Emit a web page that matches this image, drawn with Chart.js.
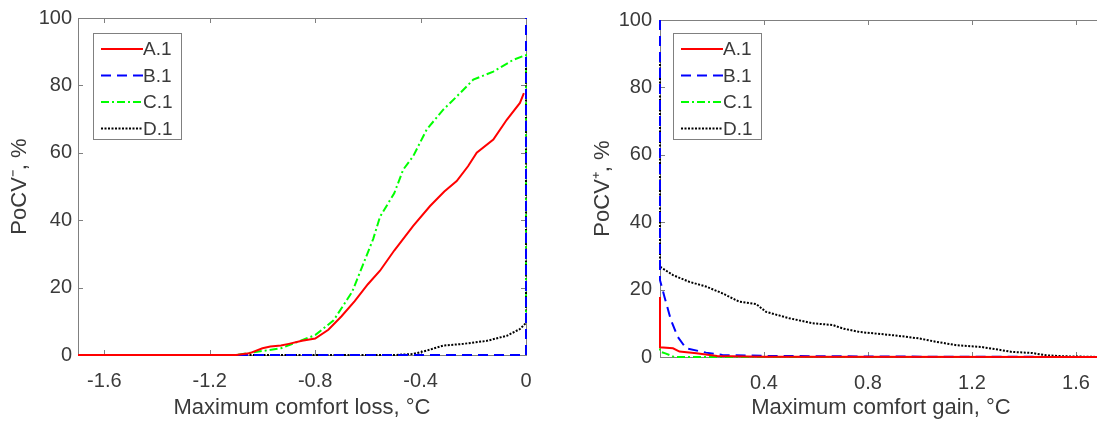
<!DOCTYPE html>
<html>
<head>
<meta charset="utf-8">
<script src="https://cdn.jsdelivr.net/npm/chart.js@4.4.0/dist/chart.umd.min.js"></script>
<style>
body { margin: 0; width: 1097px; height: 421px; overflow: hidden; background: #fff; position: relative; }
#wrapL { position: absolute; left: 0; top: 0; width: 550px; height: 421px; }
#wrapR { position: absolute; left: 560px; top: 0; width: 560px; height: 421px; }
</style>
</head>
<body>
<div id="wrapL"><canvas id="lossChart"></canvas></div>
<div id="wrapR"><canvas id="gainChart"></canvas></div>
<script>
// series names
const seriesNames = ['A.1', 'B.1', 'C.1', 'D.1'];

// left panel: maximum comfort loss
const lossX_A = [-1.7, -1.1, -1.05, -1.0, -0.97, -0.93, -0.9, -0.85, -0.8, -0.75, -0.7, -0.65, -0.6, -0.554, -0.5, -0.428, -0.364, -0.31, -0.263, -0.22, -0.187, -0.124, -0.073, -0.023, -0.008];
const lossY_A = [0, 0, 0.5, 2.0, 2.5, 2.8, 3.3, 4.2, 4.9, 7.5, 11.5, 16, 21, 25, 31, 38.3, 44.2, 48.5, 51.6, 56, 60, 63.9, 69.8, 74.8, 77.7];
const lossX_B = [-1.7, 0, 0];
const lossY_B = [0, 0, 100];
const lossX_C = [-1.7, -1.1, -1.06, -0.93, -0.8, -0.73, -0.66, -0.62, -0.58, -0.554, -0.5, -0.466, -0.428, -0.377, -0.314, -0.263, -0.2, -0.124, -0.048, 0, 0];
const lossY_C = [0, 0, 0.5, 2, 5.9, 10.3, 18.7, 26.5, 34.4, 41, 48, 55, 59, 66.9, 72.8, 76.7, 81.7, 84.1, 87.6, 89, 10];
const lossX_D = [-1.7, -0.5, -0.428, -0.377, -0.314, -0.238, -0.149, -0.073, -0.023, -0.004, 0, 0];
const lossY_D = [0, 0, 0.3, 1.3, 2.8, 3.3, 4.2, 5.7, 7.7, 9.2, 10, 88];

// right panel: maximum comfort gain
const gainX_A = [0, 0, 0.05, 0.075, 0.14, 0.22, 0.4, 1.7];
const gainY_A = [17.8, 2.9, 2.6, 1.6, 1.1, 0.3, 0.1, 0];
const gainX_B = [0, 0, 0.017, 0.042, 0.068, 0.1, 0.177, 0.24, 0.43, 1.0, 1.7];
const gainY_B = [100, 22.8, 17.9, 11, 6.0, 2.6, 1.3, 0.6, 0.3, 0.1, 0];
const gainX_C = [0, 0, 0.023, 0.055, 1.7];
const gainY_C = [10.5, 1.6, 1.0, 0, 0];
const gainX_D = [0, 0, 0.05, 0.113, 0.177, 0.24, 0.305, 0.37, 0.408, 0.497, 0.587, 0.664, 0.706, 0.77, 0.838, 0.904, 0.997, 1.063, 1.14, 1.234, 1.3, 1.353, 1.43, 1.485, 1.56, 1.7];
const gainY_D = [88, 26.8, 24.3, 22.3, 20.9, 18.9, 16.4, 15.7, 13.4, 11.5, 10.0, 9.5, 8.4, 7.4, 6.9, 6.4, 5.5, 4.5, 3.5, 3.0, 2.2, 1.5, 1.2, 0.5, 0.2, 0];

// tick labels
const lossTicks = [-1.6, -1.2, -0.8, -0.4, 0];
const gainTicks = [0.4, 0.8, 1.2, 1.6];
const yTicks = [0, 20, 40, 60, 80, 100];

const colors = ['#ff0000', '#0000ff', '#00ff00', '#000000'];
const dashes = [[], [10, 6], [8, 3, 2, 3], [2, 1.5]];
const textColor = '#3a3a3a';
const boxColor = '#808080';

function pts(xs, ys) {
  return xs.map((x, i) => ({ x: x, y: ys[i] }));
}

function makeSets(list) {
  return list.map((pair, i) => ({
    label: seriesNames[i],
    data: pts(pair[0], pair[1]),
    showLine: true,
    borderColor: colors[i],
    backgroundColor: colors[i],
    borderWidth: 2,
    borderDash: dashes[i],
    pointRadius: 0,
    tension: 0,
    clip: 6
  }));
}

// MATLAB-like box, inward ticks and boxed legend
const boxPlugin = {
  id: 'boxPlugin',
  beforeDatasetsDraw(chart) {
    const { ctx, chartArea: a, scales } = chart;
    ctx.save();
    ctx.strokeStyle = boxColor;
    ctx.lineWidth = 1;
    ctx.strokeRect(a.left + 0.5, a.top + 0.5, a.right - a.left, a.bottom - a.top);
    ctx.beginPath();
    scales.x.ticks.forEach(t => {
      const px = Math.round(scales.x.getPixelForValue(t.value)) + 0.5;
      ctx.moveTo(px, a.bottom); ctx.lineTo(px, a.bottom - 5);
      ctx.moveTo(px, a.top); ctx.lineTo(px, a.top + 5);
    });
    scales.y.ticks.forEach(t => {
      const py = Math.round(scales.y.getPixelForValue(t.value)) + 0.5;
      ctx.moveTo(a.left, py); ctx.lineTo(a.left + 5, py);
      ctx.moveTo(a.right, py); ctx.lineTo(a.right - 5, py);
    });
    ctx.stroke();
    ctx.restore();
  },
  afterDatasetsDraw(chart) {
    const { ctx, chartArea: a } = chart;
    const off = chart.options.plugins.boxPlugin.offset;
    const bx = a.left + off, by = a.top + off, bw = 88, bh = 106;
    ctx.save();
    ctx.fillStyle = '#fff';
    ctx.fillRect(bx, by, bw, bh);
    ctx.strokeStyle = boxColor;
    ctx.lineWidth = 1;
    ctx.strokeRect(bx + 0.5, by + 0.5, bw, bh);
    ctx.font = '19px "Liberation Sans", Arial, sans-serif';
    ctx.textBaseline = 'middle';
    chart.data.datasets.forEach((ds, i) => {
      const y = by + 16 + i * 26.5;
      ctx.strokeStyle = ds.borderColor;
      ctx.lineWidth = 2;
      ctx.setLineDash(ds.borderDash);
      ctx.beginPath();
      ctx.moveTo(bx + 8, y); ctx.lineTo(bx + 50, y);
      ctx.stroke();
      ctx.setLineDash([]);
      ctx.fillStyle = textColor;
      ctx.fillText(ds.label, bx + 50, y + 1);
    });
    ctx.restore();
  }
};

function makeOptions(cfg) {
  return {
    responsive: true,
    maintainAspectRatio: false,
    animation: false,
    layout: { padding: { top: cfg.top, right: cfg.right, bottom: 0, left: 0 } },
    plugins: { legend: { display: false }, tooltip: { enabled: false }, boxPlugin: { offset: cfg.legendOff } },
    scales: {
      x: {
        type: 'linear', min: cfg.xmin, max: cfg.xmax,
        grid: { display: false, drawTicks: false },
        border: { display: false },
        afterBuildTicks: s => { s.ticks = cfg.xticks.map(v => ({ value: v })); },
        afterFit: s => { s.height = 421 - cfg.top - 337; },
        ticks: { padding: 14, color: textColor, maxRotation: 0, autoSkip: false,
          font: { family: '"Liberation Sans", Arial, sans-serif', size: 20 },
          callback: v => String(v) },
        title: { display: true, text: cfg.xtitle, color: textColor, padding: { top: 0, bottom: 0 },
          font: { family: '"Liberation Sans", Arial, sans-serif', size: 22 } }
      },
      y: {
        type: 'linear', min: 0, max: 100,
        grid: { display: false, drawTicks: false },
        border: { display: false },
        afterBuildTicks: s => { s.ticks = yTicks.map(v => ({ value: v })); },
        afterFit: s => { s.width = cfg.yw; },
        ticks: { padding: cfg.ypad, color: textColor,
          font: { family: '"Liberation Sans", Arial, sans-serif', size: 20 },
          callback: v => String(v) },
        title: { display: true, text: cfg.ytitle, color: textColor, padding: { top: cfg.ytpad, bottom: 0 },
          font: { family: '"Liberation Sans", Arial, sans-serif', size: 22 } }
      }
    }
  };
}

new Chart(document.getElementById('lossChart'), {
  type: 'scatter',
  data: { datasets: makeSets([[lossX_A, lossY_A], [lossX_B, lossY_B], [lossX_C, lossY_C], [lossX_D, lossY_D]]) },
  options: makeOptions({ top: 18, right: 24, xmin: -1.7, xmax: 0, xticks: lossTicks, yw: 78, ypad: 6, ytpad: 7,
    xtitle: 'Maximum comfort loss, °C', ytitle: 'PoCV\u207B, %', legendOff: 15 }),
  plugins: [boxPlugin]
});

new Chart(document.getElementById('gainChart'), {
  type: 'scatter',
  data: { datasets: makeSets([[gainX_A, gainY_A], [gainX_B, gainY_B], [gainX_C, gainY_C], [gainX_D, gainY_D]]) },
  options: makeOptions({ top: 20, right: 18, xmin: 0, xmax: 1.7, xticks: gainTicks, yw: 100, ypad: 8, ytpad: 30,
    xtitle: 'Maximum comfort gain, °C', ytitle: 'PoCV\u207A, %', legendOff: 13 }),
  plugins: [boxPlugin]
});
</script>
</body>
</html>
